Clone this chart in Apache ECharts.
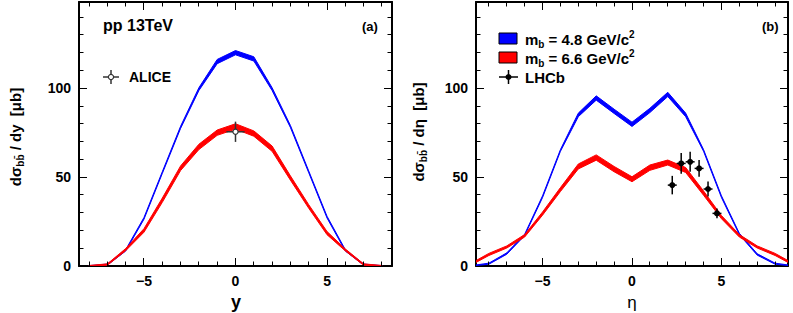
<!DOCTYPE html>
<html><head><meta charset="utf-8">
<script src="https://cdn.jsdelivr.net/npm/echarts@6/dist/echarts.min.js"></script>
<style>html,body{margin:0;padding:0;background:#fff}#c{width:793px;height:313px}</style>
</head><body><div id="c"></div>
<script>
// ---- data ----
const rapidity = [-8,-7,-6,-5,-4,-3,-2,-1,0,1,2,3,4,5,6,7,8];
const yBlueLow = [0, 0.5, 8.4, 26.3, 52, 77.4, 98.7, 113.8, 118.8, 115.3, 98.7, 77.9, 52.5, 27, 8.4, 0.5, 0];
const yBlueUp  = [0.2, 1.1, 9.2, 27.3, 53, 78.6, 100.3, 116.2, 121.2, 117.7, 100.3, 79.1, 53.5, 28, 9.2, 1.1, 0.2];
const yRedLow  = [0, 0.4, 8.6, 19, 35.8, 53.7, 65.5, 73.5, 77, 73, 64.5, 48.3, 32.5, 17.6, 8.5, 0.4, 0];
const yRedUp   = [0.3, 1.2, 9.8, 21, 38.2, 56.3, 68.5, 76.5, 80, 76, 67.5, 50.7, 34.5, 19.4, 9.6, 1.2, 0.3];
const aliceX = [0], aliceY = [75.5], aliceEx = [0.5], aliceEy = [5.7];

const eta = [-9,-8,-7,-6,-5,-4,-3,-2,-1,0,1,2,3,4,5,6,7,8,9];
const eBlueLow = [0, 1.0, 6.6, 17.1, 38.5, 64.5, 84, 93.3, 85.8, 78.5, 86.3, 95.3, 84, 64.5, 38.5, 17.6, 6.1, 1.0, 0];
const eBlueUp  = [0.2, 1.6, 7.4, 17.9, 39.5, 65.5, 86, 95.7, 88.2, 80.9, 88.7, 97.7, 86, 65.5, 39.5, 18.4, 6.9, 1.6, 0.2];
const eRedLow  = [0.5, 5.9, 10.1, 16.3, 28.6, 41.9, 54.6, 59.5, 53, 47.4, 53.8, 56.8, 52.6, 39.8, 26.6, 16.3, 10.1, 5.9, 0.5];
const eRedUp   = [1.5, 7.1, 11.3, 17.7, 30.4, 44.1, 57.4, 62.5, 56, 50.2, 56.8, 59.6, 55.4, 42.2, 28.4, 17.7, 11.3, 7.1, 1.5];
const lhcbX  = [2.25, 2.75, 3.25, 3.75, 4.25, 4.75];
const lhcbY  = [45.5, 57.7, 58.6, 54.9, 43.3, 29.6];
const lhcbEx = [0.25, 0.25, 0.25, 0.25, 0.25, 0.25];
const lhcbEy = [5.2, 5.8, 5.6, 4.7, 4.2, 2.8];

const xMajor = [-5, 0, 5];
const xMinor = [-8,-7,-6,-4,-3,-2,-1,1,2,3,4,6,7,8];
const yMajor = [0, 50, 100];
const yMinor = [10,20,30,40,60,70,80,90,110,120,130,140];

// ---- helpers ----
const FONT = 'Liberation Sans';
const Y_MAX = 148.5;
const X_RANGE = [[-8.55, 8.55], [-8.72, 8.72]];
const fmt = v => v < 0 ? '\u2212' + (-v) : String(v);
const snap = p => Math.round(p - 0.5) + 0.5;
function ax(grid, pos, min, max, labels) {
  return {
    type: 'value', gridIndex: grid, position: pos, min: min, max: max,
    splitLine: {show: false},
    axisLine: {show: true, onZero: false, lineStyle: {color: '#000', width: 2}},
    axisTick: {show: false},
    axisLabel: labels ? {show: true, customValues: labels, formatter: fmt, fontFamily: FONT, fontWeight: 'bold', fontSize: 14, color: '#000', margin: 8} : {show: false}
  };
}
// tick marks on all four frame sides, placed with the axes' own scales
function tickSeries(xi, yi, xr) {
  const data = xMajor.map(v => [v, 1, 0]).concat(xMinor.map(v => [v, 0, 0]),
               yMajor.map(v => [v, 1, 1]), yMinor.map(v => [v, 0, 1]));
  return {
    type: 'custom', xAxisIndex: xi, yAxisIndex: yi, z: 20, silent: true, clip: false, data: data,
    renderItem: function (params, api) {
      const v = api.value(0), len = api.value(1) ? 8 : 4.5, isY = api.value(2);
      let a, b, d;
      if (!isY) { a = api.coord([v, 0]); b = api.coord([v, Y_MAX]);
        const x = snap(a[0]);
        d = [[x, a[1], x, a[1] - len], [x, b[1], x, b[1] + len]]; }
      else { a = api.coord([xr[0], v]); b = api.coord([xr[1], v]);
        const y = snap(a[1]);
        d = [[a[0], y, a[0] + len, y], [b[0], y, b[0] - len, y]]; }
      return {type: 'group', children: d.map(s => ({type: 'line', shape: {x1: s[0], y1: s[1], x2: s[2], y2: s[3]}, style: {stroke: '#000', lineWidth: 1}}))};
    }
  };
}
function band(xs, low, up, color, xi, yi) {
  return {
    type: 'custom', xAxisIndex: xi, yAxisIndex: yi, clip: true, silent: true, z: 3,
    data: [[xs[0], low[0]]],
    renderItem: function (params, api) {
      const pts = [];
      for (let i = 0; i < xs.length; i++) pts.push(api.coord([xs[i], up[i]]));
      for (let i = xs.length - 1; i >= 0; i--) pts.push(api.coord([xs[i], low[i]]));
      return {type: 'polygon', shape: {points: pts}, style: {fill: color, stroke: color, lineWidth: 1, lineJoin: 'round'}};
    }
  };
}
function errPoints(xs, ys, exs, eys, xi, yi, open) {
  return {
    type: 'custom', xAxisIndex: xi, yAxisIndex: yi, z: 10, silent: true,
    data: xs.map((v,i) => [v, ys[i], exs[i], eys[i]]),
    renderItem: function (params, api) {
      const x = api.value(0), y = api.value(1), ex = api.value(2), ey = api.value(3);
      const c = api.coord([x, y]);
      const l = api.coord([x - ex, y]), r = api.coord([x + ex, y]);
      const t = api.coord([x, y + ey]), b = api.coord([x, y - ey]);
      const col = open ? '#333' : '#000';
      return {type: 'group', children: [
        {type: 'line', shape: {x1: l[0], y1: l[1], x2: r[0], y2: r[1]}, style: {stroke: col, lineWidth: 1.5}},
        {type: 'line', shape: {x1: t[0], y1: t[1], x2: b[0], y2: b[1]}, style: {stroke: col, lineWidth: 1.5}},
        {type: 'circle', shape: {cx: c[0], cy: c[1], r: open ? 2.6 : 3}, style: open ? {fill: '#fff', stroke: col, lineWidth: 1.2} : {fill: '#000'}}
      ]};
    }
  };
}
function txt(x, y, text, size, bold, align) {
  return {type: 'text', x: x, y: y, z: 100, style: {text: text, fontFamily: FONT, fontSize: size,
    fontWeight: bold ? 'bold' : 'normal', fill: '#000', align: align || 'left', verticalAlign: 'middle'}};
}
const richTitle = {
  a: {fontFamily: FONT, fontSize: 15, fontWeight: 'bold', lineHeight: 20, color: '#000'},
  s: {fontFamily: FONT, fontSize: 10, fontWeight: 'bold', lineHeight: 8, verticalAlign: 'bottom', color: '#000'}
};
const richLeg = {
  a: {fontFamily: FONT, fontSize: 15, fontWeight: 'bold', lineHeight: 20, color: '#000'},
  s: {fontFamily: FONT, fontSize: 10, fontWeight: 'bold', lineHeight: 8, verticalAlign: 'bottom', color: '#000'},
  p: {fontFamily: FONT, fontSize: 10, fontWeight: 'bold', lineHeight: 8, verticalAlign: 'top', color: '#000'}
};
function yTitle(cx, cy, v) {
  return {type: 'text', x: cx, y: cy, rotation: Math.PI / 2, z: 100, style: {
    text: '{a|d\u03c3}{s|bb\u0304}{a| / d' + v + '  [\u03bcb]}', rich: richTitle, align: 'center', verticalAlign: 'middle'}};
}

const chart = echarts.init(document.getElementById('c'), null, {renderer: 'svg'});
chart.setOption({
  animation: false,
  backgroundColor: '#fff',
  grid: [
    {left: 79, top: 2, width: 313, height: 264},
    {left: 476, top: 2, width: 312, height: 264}
  ],
  xAxis: [ax(0, 'bottom', X_RANGE[0][0], X_RANGE[0][1], xMajor), ax(0, 'top', X_RANGE[0][0], X_RANGE[0][1], null),
          ax(1, 'bottom', X_RANGE[1][0], X_RANGE[1][1], xMajor), ax(1, 'top', X_RANGE[1][0], X_RANGE[1][1], null)],
  yAxis: [ax(0, 'left', 0, Y_MAX, yMajor), ax(0, 'right', 0, Y_MAX, null),
          ax(1, 'left', 0, Y_MAX, yMajor), ax(1, 'right', 0, Y_MAX, null)],
  series: [
    band(rapidity, yBlueLow, yBlueUp, '#0000ff', 0, 0),
    band(rapidity, yRedLow, yRedUp, '#ff0000', 0, 0),
    errPoints(aliceX, aliceY, aliceEx, aliceEy, 0, 0, true),
    band(eta, eBlueLow, eBlueUp, '#0000ff', 2, 2),
    band(eta, eRedLow, eRedUp, '#ff0000', 2, 2),
    errPoints(lhcbX, lhcbY, lhcbEx, lhcbEy, 2, 2, false),
    tickSeries(0, 0, X_RANGE[0]),
    tickSeries(2, 2, X_RANGE[1])
  ],
  graphic: [
    yTitle(15, 137, 'y'),
    yTitle(418, 132, '\u03b7'),
    txt(236, 302, 'y', 18, true, 'center'),
    txt(632, 302, '\u03b7', 17, false, 'center'),
    txt(103, 25, 'pp 13TeV', 16, true),
    txt(362, 26, '(a)', 13, true),
    txt(762, 26, '(b)', 13, true),
    // ALICE legend
    {type: 'line', z: 100, shape: {x1: 103, y1: 77, x2: 119, y2: 77}, style: {stroke: '#333', lineWidth: 1.5}},
    {type: 'line', z: 100, shape: {x1: 111, y1: 70, x2: 111, y2: 84}, style: {stroke: '#333', lineWidth: 1.5}},
    {type: 'circle', z: 101, shape: {cx: 111, cy: 77, r: 2.6}, style: {fill: '#fff', stroke: '#333', lineWidth: 1.2}},
    txt(129, 77, 'ALICE', 14, true),
    // right legend
    {type: 'rect', z: 100, shape: {x: 499, y: 33, width: 18, height: 11}, style: {fill: '#0000ff', stroke: '#000', lineWidth: 1}},
    {type: 'rect', z: 100, shape: {x: 499, y: 52, width: 18, height: 11}, style: {fill: '#ff0000', stroke: '#000', lineWidth: 1}},
    {type: 'text', x: 525, y: 39, z: 100, style: {text: '{a|m}{s|b}{a| = 4.8 GeV/c}{p|2}', rich: richLeg, verticalAlign: 'middle'}},
    {type: 'text', x: 525, y: 58, z: 100, style: {text: '{a|m}{s|b}{a| = 6.6 GeV/c}{p|2}', rich: richLeg, verticalAlign: 'middle'}},
    {type: 'line', z: 100, shape: {x1: 499, y1: 77, x2: 518, y2: 77}, style: {stroke: '#000', lineWidth: 1.5}},
    {type: 'line', z: 100, shape: {x1: 508.5, y1: 70, x2: 508.5, y2: 84}, style: {stroke: '#000', lineWidth: 1.5}},
    {type: 'circle', z: 101, shape: {cx: 508.5, cy: 77, r: 3}, style: {fill: '#000'}},
    txt(525, 77, 'LHCb', 15, true)
  ]
});
</script></body></html>
